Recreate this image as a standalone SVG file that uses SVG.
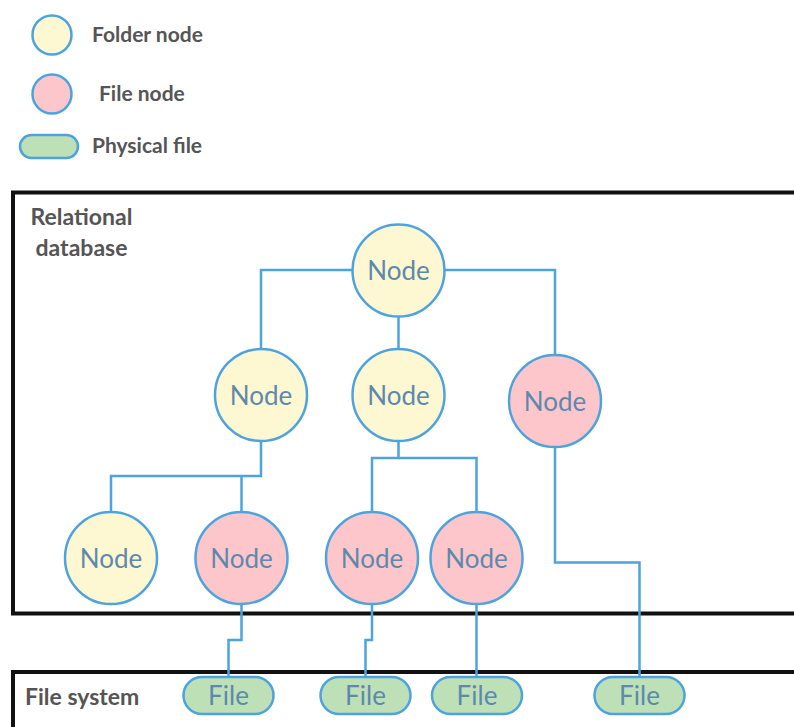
<svg xmlns="http://www.w3.org/2000/svg" width="794" height="727" viewBox="0 0 794 727">
  <style>
    .frame { fill: none; stroke: #111; stroke-width: 4; }
    .folder { fill: #fdf8d2; stroke: #4da3de; stroke-width: 2.5; }
    .file { fill: #fcc6ca; stroke: #4da3de; stroke-width: 2.5; }
    .phys { fill: #bde0b7; stroke: #4da3de; stroke-width: 2.5; }
    .link { fill: none; stroke: #4da3de; stroke-width: 2.5; }
    .label { font-family: Lato, "Liberation Sans", sans-serif; font-size: 26px; fill: #5e89ad; text-anchor: middle; }
    .caption { font-family: Lato, "Liberation Sans", sans-serif; font-weight: bold; font-size: 21px; fill: #555; }
    .heading { font-size: 23px; }
  </style>

  <!-- legend -->
  <g id="legend">
    <circle class="folder" cx="52" cy="35" r="19.5"/>
    <text class="caption" x="92" y="42">Folder node</text>
    <circle class="file" cx="52" cy="94" r="19.5"/>
    <text class="caption" x="99" y="101">File node</text>
    <rect class="phys" x="20" y="135" width="58" height="23" rx="11.5"/>
    <text class="caption" x="92" y="153">Physical file</text>
  </g>

  <!-- containers -->
  <g id="relational-db">
    <rect class="frame" x="13" y="192.5" width="800" height="421"/>
    <text class="caption heading" x="81.5" y="225" text-anchor="middle">Relational</text>
    <text class="caption heading" x="81.5" y="256" text-anchor="middle">database</text>
  </g>
  <g id="file-system">
    <rect class="frame" x="13" y="672" width="800" height="80"/>
    <text class="caption heading" x="25" y="705">File system</text>
  </g>

  <!-- connectors -->
  <g id="connectors">
    <path class="link" d="M353 270 H261 V349"/>
    <path class="link" d="M398.5 316 V349"/>
    <path class="link" d="M444.5 270 H555 V355"/>
    <path class="link" d="M261 441 V476 H111 V512"/>
    <path class="link" d="M241.5 476 V512"/>
    <path class="link" d="M398.5 441 V458 H372 V512"/>
    <path class="link" d="M398.5 458 H476.5 V512"/>
    <path class="link" d="M555 447 V562.5 H639.5 V677"/>
    <path class="link" d="M241.5 604 V640 H228.5 V677"/>
    <path class="link" d="M372 604 V640 H365.5 V677"/>
    <path class="link" d="M476.5 604 V677"/>
  </g>

  <!-- tree nodes -->
  <g id="n-root"><circle class="folder" cx="398.5" cy="270.5" r="46"/><text class="label" x="398.5" y="280">Node</text></g>
  <g id="n-a"><circle class="folder" cx="261" cy="395" r="46"/><text class="label" x="261" y="404.5">Node</text></g>
  <g id="n-b"><circle class="folder" cx="398.5" cy="395" r="46"/><text class="label" x="398.5" y="404.5">Node</text></g>
  <g id="n-c"><circle class="file" cx="555" cy="401" r="46"/><text class="label" x="555" y="410.5">Node</text></g>
  <g id="n-a1"><circle class="folder" cx="111" cy="558" r="46"/><text class="label" x="111" y="567.5">Node</text></g>
  <g id="n-a2"><circle class="file" cx="241.5" cy="558" r="46"/><text class="label" x="241.5" y="567.5">Node</text></g>
  <g id="n-b1"><circle class="file" cx="372" cy="558" r="46"/><text class="label" x="372" y="567.5">Node</text></g>
  <g id="n-b2"><circle class="file" cx="476.5" cy="558" r="46"/><text class="label" x="476.5" y="567.5">Node</text></g>

  <!-- physical files -->
  <g id="f-1"><rect class="phys" x="183.5" y="677" width="90" height="37" rx="18.5"/><text class="label" x="228.5" y="704.5">File</text></g>
  <g id="f-2"><rect class="phys" x="320.5" y="677" width="90" height="37" rx="18.5"/><text class="label" x="365.5" y="704.5">File</text></g>
  <g id="f-3"><rect class="phys" x="432" y="677" width="90" height="37" rx="18.5"/><text class="label" x="477" y="704.5">File</text></g>
  <g id="f-4"><rect class="phys" x="594.5" y="677" width="90" height="37" rx="18.5"/><text class="label" x="639.5" y="704.5">File</text></g>
</svg>
